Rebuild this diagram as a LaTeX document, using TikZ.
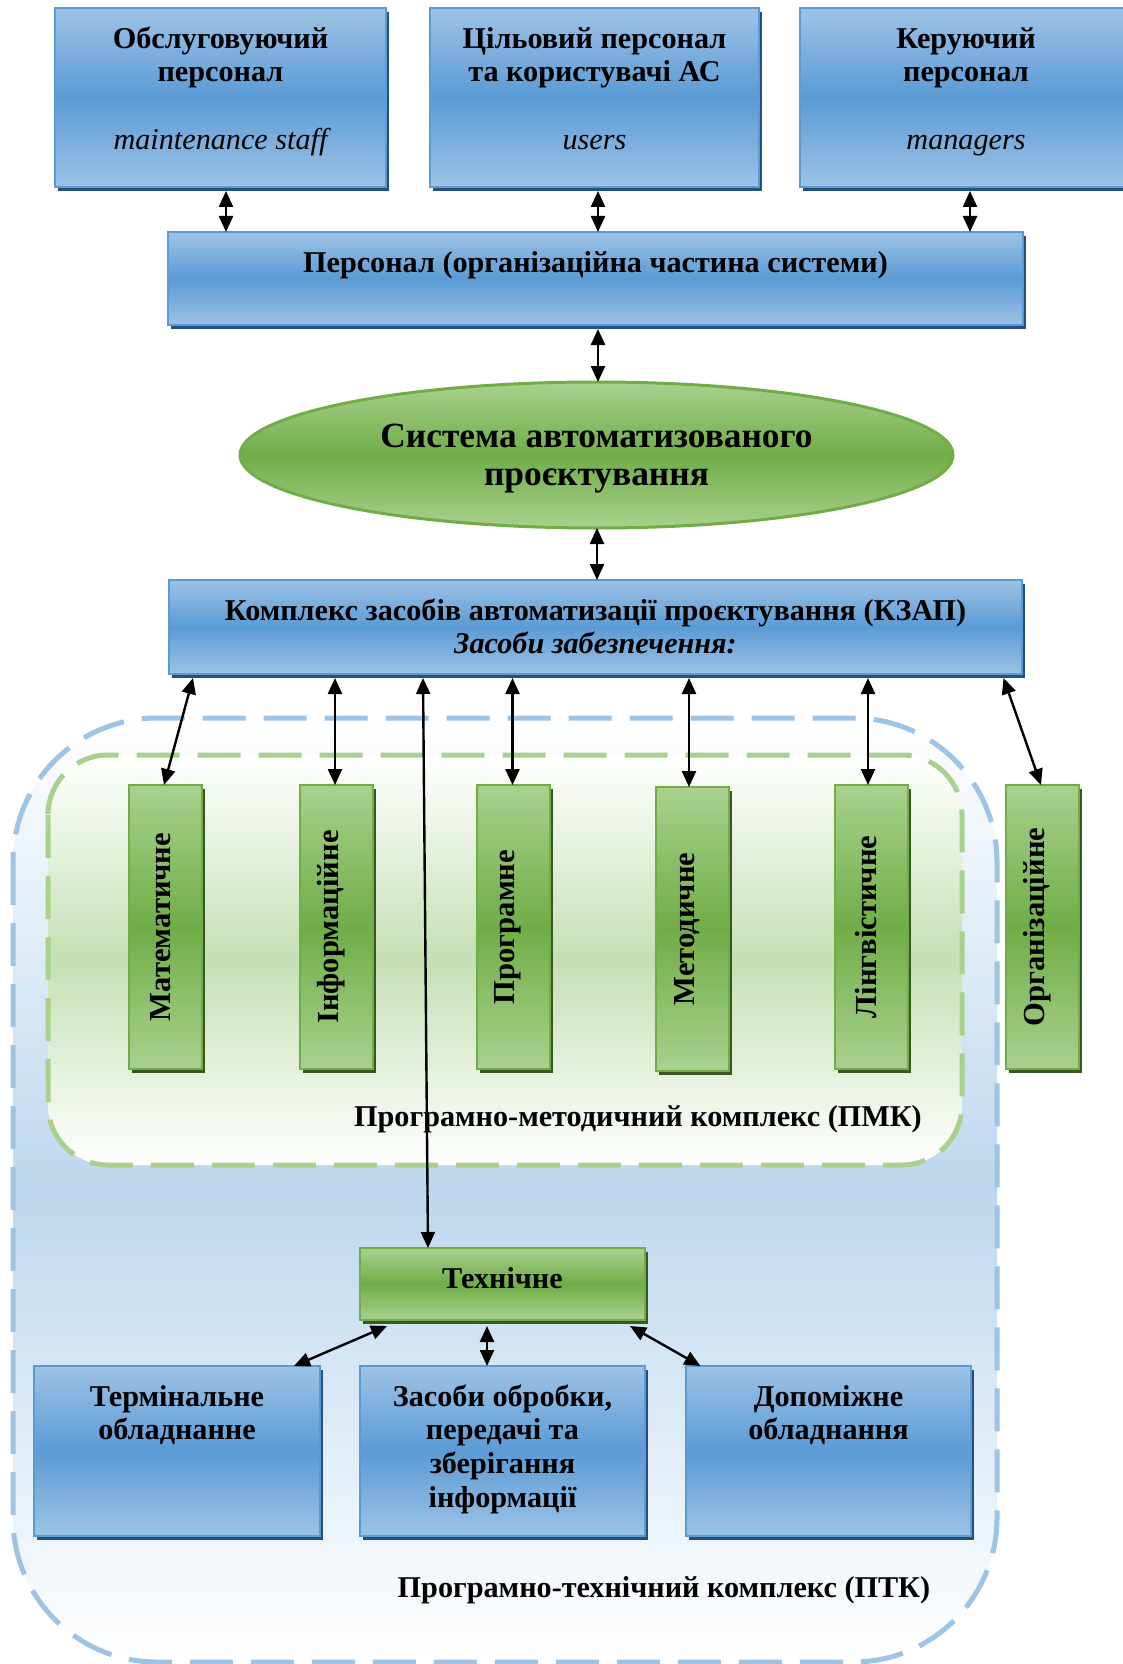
\documentclass[tikz,border=0pt]{standalone}
\usepackage{fontspec}
\setmainfont{Liberation Serif}
\usetikzlibrary{arrows.meta,calc,shadows,shapes.geometric}

\definecolor{bluelt}{RGB}{157,195,230}
\definecolor{bluemid}{RGB}{91,155,213}
\definecolor{blueedge}{RGB}{91,155,213}
\definecolor{blueshade}{RGB}{37,80,125}
\definecolor{greenlt}{RGB}{169,209,142}
\definecolor{greenmid}{RGB}{112,173,71}
\definecolor{greenedge}{RGB}{112,173,71}
\definecolor{greenshade}{RGB}{56,87,35}
\definecolor{ptkline}{RGB}{157,195,230}
\definecolor{ptkfill}{RGB}{189,215,238}
\definecolor{pmkline}{RGB}{169,209,142}
\definecolor{pmkfill}{RGB}{197,224,180}

\tikzset{
  every node/.style={inner sep=0pt, outer sep=0pt},
  bluebox/.style={draw=blueedge, line width=1pt,
    top color=bluelt, bottom color=bluelt, middle color=bluemid,
    drop shadow={shadow xshift=1.5pt, shadow yshift=-2pt, fill=blueshade, opacity=1}},
  greenbox/.style={draw=greenedge, line width=1pt,
    top color=greenlt, bottom color=greenlt, middle color=greenmid,
    drop shadow={shadow xshift=1.5pt, shadow yshift=-2pt, fill=greenshade, opacity=1}},
  txt/.style={anchor=base, font=\fontsize{15.1}{16.5}\selectfont\bfseries},
  ittxt/.style={anchor=base, font=\fontsize{15.1}{16.5}\selectfont\itshape},
  bittxt/.style={anchor=base, font=\fontsize{15.1}{16.5}\selectfont\bfseries\itshape},
  bigtxt/.style={anchor=base, font=\fontsize{17.7}{19}\selectfont\bfseries},
  vtxt/.style={rotate=90, font=\fontsize{15.3}{16.5}\selectfont\bfseries},
  con/.style={{Triangle[length=8pt,width=7pt]}-{Triangle[length=8pt,width=7pt]}, line width=1.2pt, black},
  framebox/.style={line width=2.5pt, dash pattern=on 21.5pt off 9pt,
    top color=white, bottom color=white}
}

\begin{document}
\begin{tikzpicture}[x=0.5pt, y=-0.5pt]
\useasboundingbox (0,0) rectangle (1123,1664);
\fill[white] (0,0) rectangle (1123,1664);
\clip (0,0) rectangle (1123,1664);

% hardware/software complex frame
\path[framebox, draw=ptkline, rounded corners=72pt, middle color=ptkfill]
  (13,718) rectangle (997,1662);
% software/methodical complex frame
\path[framebox, draw=pmkline, rounded corners=30pt, middle color=pmkfill]
  (48,755) rectangle (962,1165);

% personnel groups
\node[bluebox, minimum width=165.5pt, minimum height=89.5pt] (obsl) at (220.5,97.5) {};
\node[bluebox, minimum width=164.5pt, minimum height=89.5pt] (users) at (594.5,97.5) {};
\node[bluebox, minimum width=166pt, minimum height=89.5pt] (mgr) at (966,97.5) {};

\node[txt] (obsl1) at (220.5,49) {Обслуговуючий};
\node[txt] (obsl2) at (220.5,82) {персонал};
\node[ittxt] (obsl3) at (220.5,150) {maintenance staff};
\node[txt] (users1) at (594.5,49) {Цільовий персонал};
\node[txt] (users2) at (594.5,82) {та користувачі АС};
\node[ittxt] (users3) at (594.5,150) {users};
\node[txt] (mgr1) at (966,49) {Керуючий};
\node[txt] (mgr2) at (966,82) {персонал};
\node[ittxt] (mgr3) at (966,150) {managers};

% personnel as a whole
\node[bluebox, minimum width=427.5pt, minimum height=46.5pt] (pers) at (595.5,278.5) {};
\node[txt] (pers1) at (595.5,272) {Персонал (організаційна частина системи)};

% the CAD system
\node[ellipse, draw=greenedge, line width=1.5pt,
  top color=greenlt, bottom color=greenlt, middle color=greenmid,
  minimum width=356.5pt, minimum height=73pt] (sapr) at (596.5,455) {};
\node[bigtxt] (sapr1) at (596.5,447) {Система автоматизованого};
\node[bigtxt] (sapr2) at (596.5,485) {проєктування};

% complex of automation means
\node[bluebox, minimum width=426.5pt, minimum height=47pt] (kzap) at (595.5,627) {};
\node[txt] (kzap1) at (595.5,620) {Комплекс засобів автоматизації проєктування (КЗАП)};
\node[bittxt] (kzap2) at (595.5,653) {Засоби забезпечення:};

% kinds of support
\node[greenbox, minimum width=36.5pt, minimum height=142pt] (mat) at (165.5,927) {};
\node[greenbox, minimum width=36.5pt, minimum height=142pt] (inf) at (336,927) {};
\node[greenbox, minimum width=36.5pt, minimum height=142pt] (prog) at (513,927) {};
\node[greenbox, minimum width=36.5pt, minimum height=142pt] (met) at (692.5,929) {};
\node[greenbox, minimum width=36.5pt, minimum height=142pt] (lin) at (871.5,927) {};
\node[greenbox, minimum width=36.5pt, minimum height=142pt] (org) at (1042,927) {};

\node[vtxt] (matt) at (160.5,927) {Математичне};
\node[vtxt] (inft) at (331,927) {Інформаційне};
\node[vtxt] (progt) at (508,927) {Програмне};
\node[vtxt] (mett) at (687.5,929) {Методичне};
\node[vtxt] (lint) at (866.5,927) {Лінгвістичне};
\node[vtxt] (orgt) at (1037,927) {Організаційне};

\node[txt] (pmk) at (638,1126) {Програмно-методичний комплекс (ПМК)};

% technical support
\node[greenbox, minimum width=142.5pt, minimum height=36pt] (tech) at (502.5,1284) {};
\node[txt] (techt) at (502.5,1288) {Технічне};

\node[bluebox, minimum width=143pt, minimum height=85pt] (term) at (177,1451) {};
\node[bluebox, minimum width=142.5pt, minimum height=85pt] (zas) at (502.5,1451) {};
\node[bluebox, minimum width=142.5pt, minimum height=85pt] (dop) at (828.5,1451) {};

\node[txt] (term1) at (177,1406) {Термінальне};
\node[txt] (term2) at (177,1439) {обладнанне};
\node[txt] (zas1) at (502.5,1406) {Засоби обробки,};
\node[txt] (zas2) at (502.5,1439) {передачі та};
\node[txt] (zas3) at (502.5,1473) {зберігання};
\node[txt] (zas4) at (502.5,1507) {інформації};
\node[txt] (dop1) at (828.5,1406) {Допоміжне};
\node[txt] (dop2) at (828.5,1439) {обладнання};

\node[txt] (ptk) at (664,1597) {Програмно-технічний комплекс (ПТК)};

% connectors
\draw[con] ($(obsl.south)+(5.5,4)$) -- ($(pers.north)+(-369.5,0)$);
\draw[con] ($(users.south)+(3.5,4)$) -- ($(pers.north)+(2.5,0)$);
\draw[con] ($(mgr.south)+(4,4)$) -- ($(pers.north)+(374.5,0)$);
\draw[con] ($(pers.south)+(2.5,4)$) -- ($(sapr.north)+(1.5,0)$);
\draw[con] ($(sapr.south)+(0.5,0)$) -- ($(kzap.north)+(1.5,0)$);

\draw[con] ($(kzap.south)+(-402.5,4)$) -- ($(mat.north)+(-1.5,0)$);
\draw[con] ($(kzap.south)+(-260.5,4)$) -- ($(inf.north)+(-1,0)$);
\draw[con] ($(kzap.south)+(-83,4)$) -- ($(prog.north)+(-0.5,0)$);
\draw[con] ($(kzap.south)+(93.5,4)$) -- ($(met.north)+(-3.5,0)$);
\draw[con] ($(kzap.south)+(272.5,4)$) -- ($(lin.north)+(-3.5,0)$);
\draw[con] ($(kzap.south)+(408,4)$) -- ($(org.north)+(-1,0)$);
\draw[con] ($(kzap.south)+(-172.5,4)$) -- ($(tech.north)+(-74.5,0)$);

\draw[con] ($(tech.south)+(-115.5,6)$) -- ($(term.north)+(117,0)$);
\draw[con] ($(tech.south)+(-15.5,6)$) -- ($(zas.north)+(-15.5,0)$);
\draw[con] ($(tech.south)+(127.5,6)$) -- ($(dop.north)+(-128,0)$);
\end{tikzpicture}
\end{document}
